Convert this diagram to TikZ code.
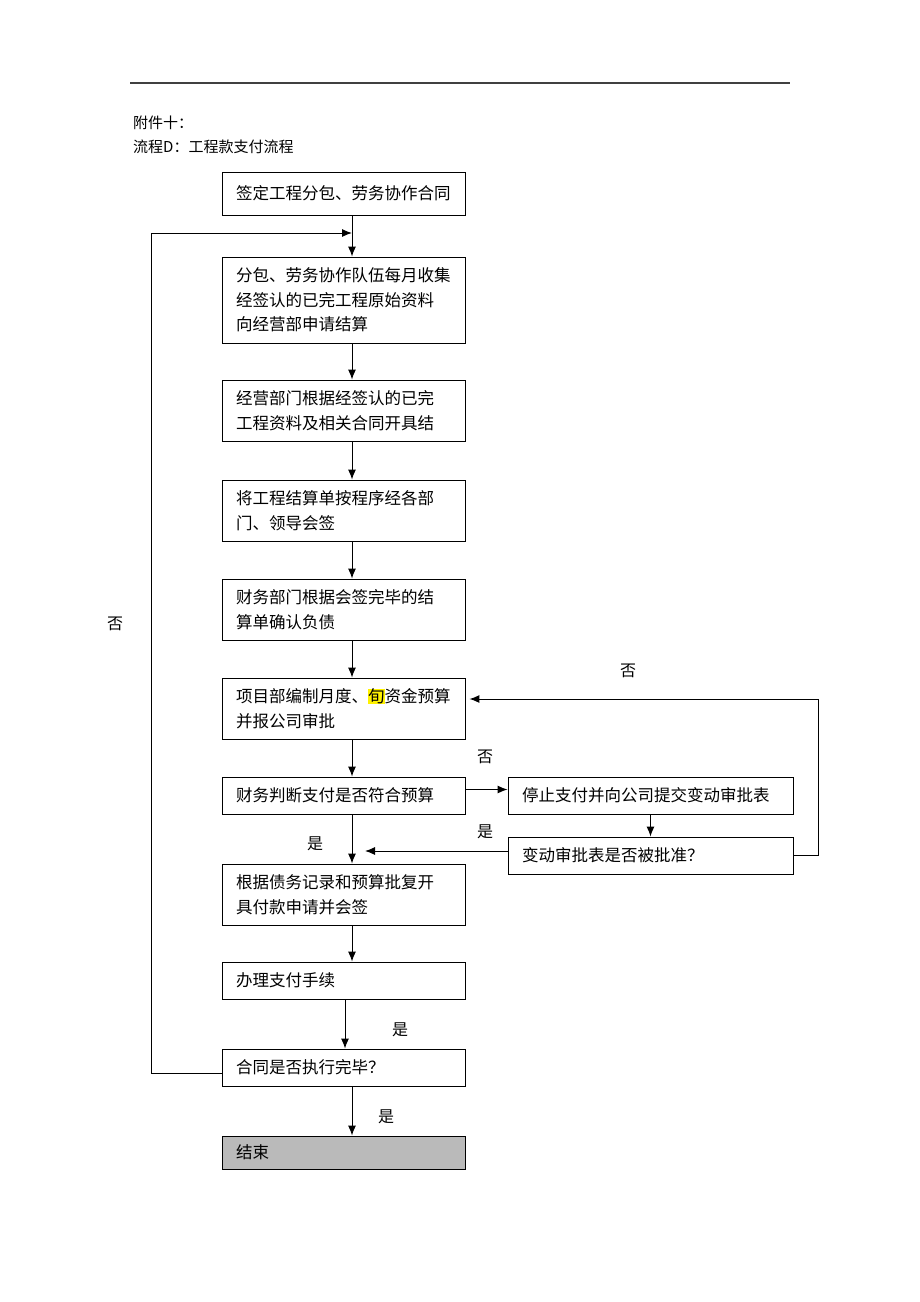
\documentclass[tikz,border=0pt]{standalone}
\usepackage{fontspec}
\usetikzlibrary{arrows.meta}
\setmainfont{Noto Sans CJK SC}
\newcommand{\hlmark}[1]{{\setlength{\fboxsep}{0pt}\colorbox{yellow}{#1}}}
\begin{document}
\begin{tikzpicture}[x=1pt, y=-1pt,
    flowbox/.style={draw, line width=0.9pt, minimum width=243pt, text width=215pt, inner xsep=14pt, align=left, font=\fontsize{16.5}{24.5}\selectfont},
    sidebox/.style={flowbox, minimum width=285pt, text width=257pt},
    arrow/.style={->, line width=1pt, >={Latex[length=10pt,width=8pt]}},
    answer/.style={font=\fontsize{16}{18}\selectfont}
]
    \useasboundingbox (0,0) rectangle (920,1302);

    % header
    \draw[line width=1.3pt, black!75] (130,83) -- (790,83);
    \node[anchor=west, inner sep=0pt, font=\fontsize{15}{18}\selectfont] (annex) at (133,123) {附件十：};
    \node[anchor=west, inner sep=0pt, font=\fontsize{15}{18}\selectfont] (title) at (133,147) {流程D：工程款支付流程};

    \coordinate (spine) at (352,0);
    \coordinate (spinepay) at (345,0);
    \coordinate (leftx) at (151,0);
    \coordinate (loopin) at (352,233);
    \coordinate (yesin) at (365,851);

    \node[flowbox, minimum height=43pt] (sign) at (343.5,193.5) {签定工程分包、劳务协作合同};
    \node[flowbox, minimum height=86pt] (collect) at (343.5,300) {分包、劳务协作队伍每月收集\\经签认的已完工程原始资料\\向经营部申请结算};
    \node[flowbox, minimum height=61pt] (settle) at (343.5,410.5) {经营部门根据经签认的已完\\工程资料及相关合同开具结};
    \node[flowbox, minimum height=61pt] (countersign) at (343.5,510.5) {将工程结算单按程序经各部\\门、领导会签};
    \node[flowbox, minimum height=61pt] (debt) at (343.5,609.5) {财务部门根据会签完毕的结\\算单确认负债};
    \node[flowbox, minimum height=61pt] (budget) at (343.5,708.5) {项目部编制月度、\hlmark{旬}资金预算\\并报公司审批};
    \node[flowbox, minimum height=37pt] (check) at (343.5,795.5) {财务判断支付是否符合预算};
    \node[sidebox, minimum height=37pt] (stop) at (650.5,795.5) {停止支付并向公司提交变动审批表};
    \node[sidebox, minimum height=37pt] (approve) at (650.5,855.5) {变动审批表是否被批准？};
    \node[flowbox, minimum height=61pt] (apply) at (343.5,894.5) {根据债务记录和预算批复开\\具付款申请并会签};
    \node[flowbox, minimum height=37pt] (pay) at (343.5,980.5) {办理支付手续};
    \node[flowbox, minimum height=37pt] (done) at (343.5,1067.5) {合同是否执行完毕？};
    \node[flowbox, minimum height=33pt, fill=black!27] (finish) at (343.5,1152.5) {结束};

    \draw[arrow] (sign.south -| spine) -- (collect.north -| spine);
    \draw[arrow] (collect.south -| spine) -- (settle.north -| spine);
    \draw[arrow] (settle.south -| spine) -- (countersign.north -| spine);
    \draw[arrow] (countersign.south -| spine) -- (debt.north -| spine);
    \draw[arrow] (debt.south -| spine) -- (budget.north -| spine);
    \draw[arrow] (budget.south -| spine) -- (check.north -| spine);
    \draw[arrow] (check.south -| spine) -- (apply.north -| spine);
    \draw[arrow] (apply.south -| spine) -- (pay.north -| spine);
    \draw[arrow] (pay.south -| spinepay) -- (done.north -| spinepay);
    \draw[arrow] (done.south -| spine) -- (finish.north -| spine);

    \draw[arrow] ([yshift=6pt]check.east) -- ([yshift=6pt]stop.west);
    \draw[arrow] (stop.south) -- (approve.north);
    \draw[arrow] (approve.west |- yesin) -- (yesin);
    \draw[arrow, shorten >=4pt] (approve.east) -- ++(25,0) |- ([yshift=9.5pt]budget.east);
    \draw[arrow] ([yshift=-6pt]done.west) -- ([yshift=-6pt]done.west -| leftx) |- (loopin);

    \node[answer] (no1) at (485,757) {否};
    \node[answer] (yes1) at (485,832) {是};
    \node[answer] (yes2) at (315,844) {是};
    \node[answer] (no2) at (628,671) {否};
    \node[answer] (yes3) at (400,1030) {是};
    \node[answer] (yes4) at (386,1117) {是};
    \node[answer] (no3) at (115,624) {否};
\end{tikzpicture}
\end{document}
